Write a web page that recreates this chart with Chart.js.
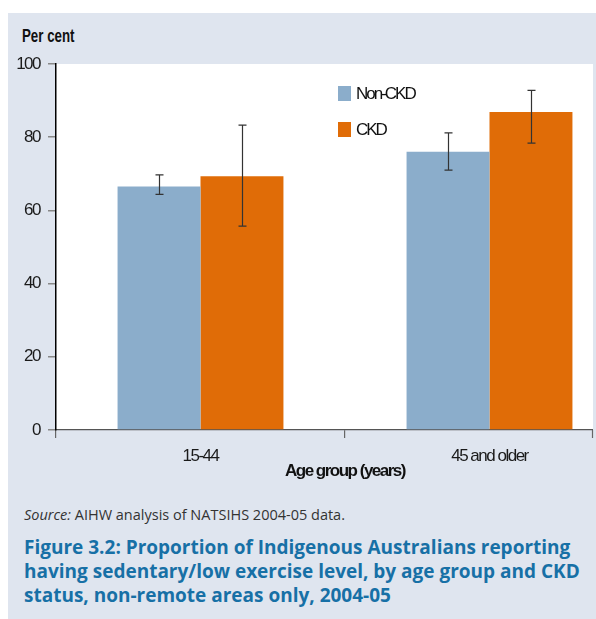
<!DOCTYPE html>
<html>
<head>
<meta charset="utf-8">
<title>Figure 3.2</title>
<script src="https://cdn.jsdelivr.net/npm/chart.js@4.4.1/dist/chart.umd.min.js"></script>
<style>
    html, body { margin: 0; padding: 0; background: #fff; overflow: hidden; }
    #panel { position: absolute; left: 8px; top: 13px; width: 588px; height: 606px; background: #dfe5ef; }
    #clip { position: absolute; left: 0; top: 0; width: 596px; height: 490px; overflow: hidden; }
    #wrap { position: absolute; left: 0; top: 0; width: 638px; height: 490px; }
    #ylabel { position: absolute; left: 22px; top: 25px; font: bold 19px 'Liberation Sans', Arial, sans-serif; color: #111; transform: scaleX(0.7); transform-origin: left top; }
    #source { position: absolute; left: 24px; top: 505px; font: 14.5px 'Open Sans', sans-serif; color: #333; }
    #caption { position: absolute; left: 24px; top: 535px; font: bold 19px/24px 'Open Sans', sans-serif; color: #1770a6; white-space: nowrap; }
</style>
</head>
<body>
<div id="panel"></div>
<div id="ylabel">Per cent</div>
<div id="clip"><div id="wrap"><canvas id="chart"></canvas></div></div>
<div id="source"><i>Source:</i> AIHW analysis of NATSIHS 2004-05 data.</div>
<div id="caption">Figure 3.2: Proportion of Indigenous Australians reporting<br>having sedentary/low exercise level, by age group and CKD<br>status, non-remote areas only, 2004-05</div>

<script>
// values
const ageGroups = ['15-44', '45 and older'];
const nonCkd = [66.5, 76.0];
const nonCkdLow = [64.4, 71.0];
const nonCkdHigh = [69.7, 81.2];
const ckd = [69.3, 86.9];
const ckdLow = [55.7, 78.4];
const ckdHigh = [83.3, 92.8];
const yTicks = [0, 20, 40, 60, 80, 100];

const PANEL = '#dfe5ef';
const FONT = "'Liberation Sans', Arial, sans-serif";

// the original uses a condensed face, tighten the canvas text a bit
const tightText = {
    id: 'tightText',
    beforeUpdate(chart) { chart.ctx.letterSpacing = '-1.5px'; },
    beforeDraw(chart) { chart.ctx.letterSpacing = '-1.5px'; }
};

// white plot background, stops where the panel border starts
const plotBg = {
    id: 'plotBg',
    beforeDraw(chart) {
        const { ctx, chartArea: a } = chart;
        ctx.save();
        ctx.fillStyle = '#fff';
        ctx.fillRect(a.left, a.top, 593 - a.left, a.bottom - a.top);
        ctx.restore();
    }
};

const errorBars = {
    id: 'errorBars',
    afterDatasetsDraw(chart) {
        const { ctx } = chart;
        const y = chart.scales.y;
        ctx.save();
        ctx.strokeStyle = '#333';
        ctx.lineWidth = 1.2;
        chart.data.datasets.forEach((ds, i) => {
            chart.getDatasetMeta(i).data.forEach((bar, j) => {
                const x = Math.round(bar.x) + 0.5;
                const lo = y.getPixelForValue(ds.errLow[j]);
                const hi = y.getPixelForValue(ds.errHigh[j]);
                ctx.beginPath();
                ctx.moveTo(x, lo); ctx.lineTo(x, hi);
                ctx.moveTo(x - 4, lo); ctx.lineTo(x + 4, lo);
                ctx.moveTo(x - 4, hi); ctx.lineTo(x + 4, hi);
                ctx.stroke();
            });
        });
        ctx.restore();
    }
};

const boxLegend = {
    id: 'boxLegend',
    afterDraw(chart) {
        const { ctx, chartArea: a } = chart;
        ctx.save();
        ctx.font = '17px ' + FONT;
        ctx.letterSpacing = '-2px';
        ctx.textBaseline = 'middle';
        chart.data.datasets.forEach((ds, i) => {
            const x = a.left + 282;
            const y = a.top + 22 + i * 36;
            ctx.fillStyle = ds.backgroundColor;
            ctx.fillRect(x, y, 13, 15);
            ctx.fillStyle = '#111';
            ctx.fillText(ds.label, x + 18, y + 8);
        });
        // panel edge on the right covers the rest of the axis
        ctx.fillStyle = PANEL;
        ctx.fillRect(593, 13, chart.width - 593, chart.height - 13);
        ctx.strokeStyle = '#666';
        ctx.lineWidth = 1.2;
        ctx.beginPath();
        ctx.moveTo(592.5, a.bottom);
        ctx.lineTo(592.5, a.bottom + 8);
        ctx.stroke();
        ctx.restore();
    }
};

new Chart(document.getElementById('chart'), {
    type: 'bar',
    data: {
        labels: ageGroups,
        datasets: [
            { label: 'Non-CKD', data: nonCkd, errLow: nonCkdLow, errHigh: nonCkdHigh, backgroundColor: '#8badcb' },
            { label: 'CKD', data: ckd, errLow: ckdLow, errHigh: ckdHigh, backgroundColor: '#e06c07' }
        ]
    },
    options: {
        responsive: true,
        maintainAspectRatio: false,
        animation: false,
        layout: { padding: { left: 0, right: 4, top: 64, bottom: 0 } },
        datasets: { bar: { categoryPercentage: 0.574, barPercentage: 1, borderWidth: 0 } },
        plugins: { legend: { display: false }, tooltip: { enabled: false } },
        scales: {
            x: {
                afterFit: s => { s.height = 60; },
                border: { color: '#555', width: 1.2 },
                grid: { offset: true, drawOnChartArea: false, tickLength: 8, color: '#666', lineWidth: 1.2 },
                ticks: { color: '#1a1a1a', padding: 8, maxRotation: 0, autoSkip: false, font: { family: FONT, size: 17 } },
                title: { display: true, text: 'Age group (years)', color: '#111', padding: { top: 0, bottom: 8 }, font: { family: FONT, size: 17, weight: 'bold' } }
            },
            y: {
                min: 0,
                max: 100,
                afterFit: s => { s.width = 56; },
                afterBuildTicks: s => { s.ticks = yTicks.map(v => ({ value: v })); },
                border: { color: '#000', width: 1.5 },
                grid: { drawOnChartArea: false, tickLength: 8, color: '#888', lineWidth: 1.5 },
                ticks: { color: '#1a1a1a', padding: 8, font: { family: FONT, size: 17 } }
            }
        }
    },
    plugins: [tightText, plotBg, errorBars, boxLegend]
});
</script>
</body>
</html>
